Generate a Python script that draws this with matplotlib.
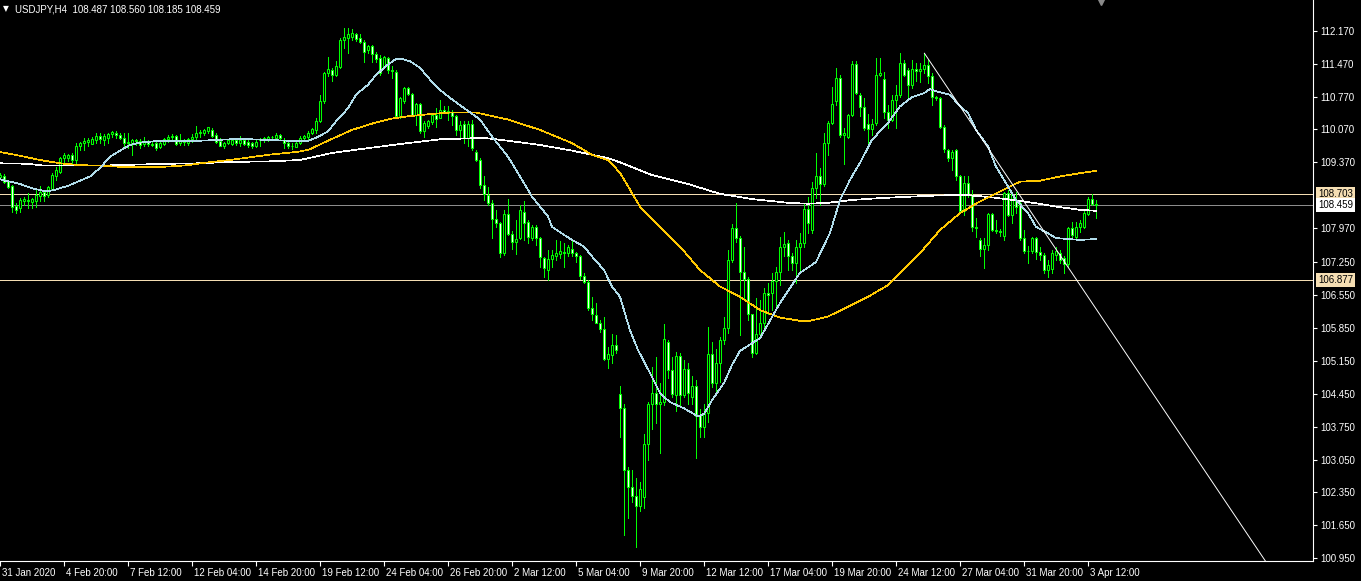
import matplotlib
matplotlib.use("Agg")
import matplotlib.pyplot as plt
import matplotlib.transforms as mtransforms
import numpy as np

plt.rcParams['font.family'] = ['Liberation Sans', 'DejaVu Sans']

# ---------------- data (USDJPY H4, candles indexed from 31 Jan 2020 04:00) ----------------
opens = [
    109.06, 109.08, 108.98, 108.87, 108.45, 108.39, 108.55, 108.58, 108.53, 108.55,
    108.66, 108.74, 108.68, 108.80, 109.07, 109.16, 109.47, 109.47, 109.52, 109.43,
    109.71, 109.78, 109.80, 109.77, 109.84, 109.93, 109.85, 109.89, 109.97, 110.00,
    109.95, 109.89, 109.78, 109.78, 109.84, 109.82, 109.76, 109.80, 109.75, 109.78,
    109.69, 109.76, 109.86, 109.92, 109.93, 109.78, 109.84, 109.79, 109.86, 109.90,
    110.00, 110.00, 110.03, 110.06, 109.96, 109.83, 109.72, 109.78, 109.76, 109.85,
    109.78, 109.84, 109.81, 109.79, 109.71, 109.84, 109.84, 109.87, 109.90, 109.89,
    109.95, 109.85, 109.79, 109.72, 109.70, 109.78, 109.89, 109.90, 110.00, 110.05,
    110.24, 110.67, 111.27, 111.34, 111.23, 111.40, 111.98, 112.02, 112.04, 112.09,
    112.01, 111.94, 111.75, 111.84, 111.68, 111.60, 111.40, 111.60, 111.34, 111.30,
    110.36, 110.67, 110.95, 110.83, 110.38, 110.61, 110.03, 110.15, 110.22, 110.38,
    110.31, 110.49, 110.42, 110.45, 110.36, 110.06, 110.19, 109.89, 110.19, 109.60,
    109.42, 108.89, 108.68, 108.51, 108.16, 108.08, 107.44, 108.27, 107.84, 107.68,
    107.76, 108.31, 108.11, 107.76, 108.00, 107.77, 107.33, 107.08, 107.31, 107.37,
    107.42, 107.47, 107.44, 107.52, 107.45, 107.38, 106.95, 106.83, 106.27, 106.12,
    105.95, 105.82, 105.18, 105.27, 105.48, 104.44, 104.14, 102.82, 102.46, 102.28,
    102.06, 102.26, 103.39, 104.23, 104.47, 104.24, 104.28, 105.56, 104.95, 104.42,
    105.25, 104.42, 104.97, 104.37, 104.61, 103.99, 103.75, 104.03, 105.29, 104.67,
    105.10, 105.59, 105.85, 107.29, 107.98, 107.76, 107.04, 106.89, 106.14, 105.32,
    105.72, 105.95, 106.59, 106.59, 106.85, 107.04, 107.57, 107.65, 107.38, 107.23,
    107.57, 107.65, 108.38, 107.93, 108.83, 109.08, 108.91, 109.79, 110.21, 110.68,
    111.17, 109.96, 109.92, 110.38, 111.47, 110.81, 110.55, 110.19, 110.08, 110.21,
    111.23, 111.14, 110.45, 110.28, 110.70, 110.81, 111.48, 111.34, 111.02, 111.35,
    111.32, 111.35, 111.45, 111.21, 110.76, 110.74, 110.12, 109.64, 109.46, 109.64,
    109.07, 108.34, 108.94, 108.68, 107.99, 107.72, 107.52, 107.61, 108.27, 107.93,
    107.90, 107.80, 108.71, 108.24, 108.54, 108.50, 107.76, 107.49, 107.48, 107.76,
    107.47, 107.40, 107.08, 107.10, 107.40, 107.44, 107.33, 107.21, 107.97, 107.79,
    107.99, 108.00, 108.27, 108.59, 108.487,
]
highs = [
    109.14, 109.12, 108.99, 108.89, 108.51, 108.61, 108.64, 108.72, 108.62, 108.81,
    108.86, 108.76, 108.87, 109.14, 109.28, 109.49, 109.57, 109.55, 109.56, 109.78,
    109.81, 109.89, 109.89, 109.92, 110.00, 110.00, 109.98, 110.00, 110.03, 110.04,
    110.00, 110.00, 110.00, 109.86, 109.86, 109.86, 109.90, 109.84, 109.82, 109.84,
    109.82, 109.89, 109.95, 109.98, 109.95, 109.98, 109.86, 109.89, 109.98, 110.15,
    110.05, 110.08, 110.13, 110.10, 110.00, 109.88, 109.81, 109.86, 109.89, 109.87,
    109.93, 109.86, 109.84, 109.81, 109.84, 109.88, 109.92, 109.93, 109.94, 110.00,
    109.98, 109.89, 109.81, 109.79, 109.81, 109.93, 109.95, 110.03, 110.10, 110.31,
    110.81, 111.30, 111.61, 111.37, 111.52, 112.01, 112.23, 112.23, 112.21, 112.12,
    112.09, 111.98, 111.87, 111.87, 111.71, 111.66, 111.64, 111.62, 111.41, 111.34,
    110.77, 110.98, 110.98, 110.84, 110.63, 110.63, 110.24, 110.28, 110.42, 110.52,
    110.70, 110.56, 110.56, 110.48, 110.38, 110.24, 110.24, 110.24, 110.28, 109.64,
    109.46, 109.07, 108.85, 108.57, 108.36, 108.10, 108.36, 108.59, 107.90, 108.15,
    108.47, 108.54, 108.15, 108.04, 108.04, 107.79, 107.36, 107.51, 107.51, 107.72,
    107.69, 107.65, 107.61, 107.72, 107.47, 107.40, 107.01, 106.87, 106.51, 106.37,
    106.02, 106.09, 105.45, 105.73, 105.70, 104.61, 104.23, 102.89, 102.82, 102.65,
    102.58, 103.59, 104.28, 105.01, 105.22, 104.68, 105.93, 105.60, 105.24, 105.34,
    105.32, 105.17, 105.10, 104.82, 104.75, 104.12, 104.24, 105.87, 105.55, 105.40,
    105.65, 106.08, 107.51, 108.05, 108.51, 107.80, 107.57, 106.93, 106.15, 106.48,
    106.44, 106.69, 106.80, 107.01, 107.15, 107.79, 107.88, 107.71, 107.44, 107.72,
    107.86, 108.50, 108.64, 108.96, 109.57, 109.25, 110.00, 110.24, 110.98, 111.38,
    111.23, 110.10, 110.40, 111.52, 111.52, 110.84, 110.74, 110.40, 110.30, 111.59,
    111.59, 111.30, 110.59, 110.81, 111.02, 111.70, 111.55, 111.38, 111.55, 111.48,
    111.48, 111.70, 111.55, 111.27, 110.79, 110.77, 110.17, 109.65, 109.64, 109.65,
    109.10, 109.07, 109.07, 108.78, 108.18, 107.76, 107.76, 108.29, 108.30, 108.15,
    107.95, 108.75, 108.78, 108.75, 108.75, 108.54, 107.93, 107.60, 107.79, 107.79,
    107.58, 107.44, 107.29, 107.51, 107.58, 107.51, 107.37, 108.00, 108.11, 108.11,
    108.15, 108.36, 108.64, 108.70, 108.560,
]
lows = [
    109.02, 108.93, 108.83, 108.31, 108.30, 108.32, 108.47, 108.40, 108.41, 108.43,
    108.54, 108.54, 108.64, 108.78, 109.00, 109.14, 109.35, 109.40, 109.32, 109.32,
    109.64, 109.64, 109.71, 109.75, 109.78, 109.78, 109.74, 109.78, 109.92, 109.89,
    109.86, 109.72, 109.67, 109.53, 109.74, 109.67, 109.71, 109.71, 109.71, 109.64,
    109.67, 109.74, 109.81, 109.85, 109.74, 109.74, 109.74, 109.74, 109.81, 109.86,
    109.92, 109.96, 110.00, 109.92, 109.78, 109.71, 109.67, 109.76, 109.74, 109.74,
    109.72, 109.73, 109.70, 109.68, 109.69, 109.71, 109.80, 109.83, 109.87, 109.85,
    109.85, 109.67, 109.67, 109.65, 109.69, 109.75, 109.86, 109.84, 109.98, 109.99,
    110.22, 110.64, 111.20, 111.11, 111.20, 111.37, 111.80, 111.70, 111.98, 111.96,
    111.91, 111.50, 111.70, 111.50, 111.50, 111.23, 111.38, 111.27, 111.16, 110.35,
    110.31, 110.63, 110.81, 110.35, 110.17, 109.99, 109.91, 110.10, 110.19, 110.12,
    110.31, 110.42, 110.28, 110.17, 109.96, 109.87, 109.78, 109.71, 109.64, 109.39,
    108.82, 108.57, 108.47, 107.76, 108.00, 107.35, 107.40, 107.83, 107.52, 107.42,
    107.73, 107.72, 107.66, 107.72, 107.61, 107.15, 106.94, 106.87, 107.15, 107.29,
    107.33, 107.15, 107.37, 107.37, 107.26, 106.90, 106.80, 106.23, 106.02, 105.95,
    105.77, 105.17, 104.99, 105.10, 105.31, 103.52, 101.44, 101.80, 102.15, 101.18,
    101.96, 102.01, 103.04, 103.69, 103.83, 103.19, 104.21, 104.78, 104.39, 104.09,
    104.21, 104.39, 104.24, 104.24, 103.09, 103.52, 103.52, 103.85, 104.60, 104.49,
    104.70, 105.50, 105.75, 107.25, 107.68, 105.70, 106.49, 106.02, 105.24, 105.30,
    105.66, 105.87, 106.15, 106.23, 106.27, 106.76, 107.37, 107.08, 107.08, 106.80,
    107.08, 107.58, 107.86, 107.86, 108.61, 108.47, 108.86, 109.53, 110.19, 110.60,
    109.92, 109.34, 109.89, 110.36, 110.83, 110.35, 110.06, 109.67, 109.95, 110.17,
    111.20, 110.31, 110.10, 110.24, 110.10, 110.77, 111.20, 110.77, 110.95, 111.09,
    111.08, 111.28, 111.06, 110.59, 110.70, 110.10, 109.60, 109.39, 109.21, 109.00,
    108.32, 108.25, 108.64, 107.90, 107.79, 107.37, 107.12, 107.51, 107.90, 107.86,
    107.80, 107.72, 108.22, 108.09, 108.29, 107.72, 107.44, 107.22, 107.44, 107.32,
    107.29, 107.01, 106.93, 107.01, 107.29, 107.22, 107.01, 107.15, 107.76, 107.72,
    107.88, 107.97, 108.25, 108.47, 108.185,
]
closes = [
    109.10, 108.96, 108.85, 108.43, 108.35, 108.57, 108.60, 108.55, 108.60, 108.68,
    108.75, 108.66, 108.84, 109.10, 109.21, 109.47, 109.53, 109.52, 109.43, 109.71,
    109.79, 109.82, 109.85, 109.86, 109.94, 109.87, 109.94, 109.98, 110.01, 109.95,
    109.89, 109.78, 109.81, 109.84, 109.82, 109.74, 109.81, 109.75, 109.74, 109.67,
    109.78, 109.86, 109.92, 109.94, 109.76, 109.84, 109.80, 109.87, 109.92, 110.00,
    110.02, 110.05, 110.12, 109.94, 109.81, 109.72, 109.78, 109.84, 109.85, 109.79,
    109.84, 109.76, 109.74, 109.71, 109.81, 109.87, 109.89, 109.90, 109.92, 109.96,
    109.88, 109.78, 109.72, 109.71, 109.79, 109.89, 109.93, 110.00, 110.08, 110.24,
    110.67, 111.27, 111.35, 111.23, 111.41, 111.98, 112.03, 112.09, 112.12, 111.99,
    111.94, 111.72, 111.85, 111.67, 111.57, 111.27, 111.62, 111.34, 111.31, 110.36,
    110.74, 110.95, 110.83, 110.38, 110.61, 110.03, 110.20, 110.24, 110.38, 110.29,
    110.49, 110.45, 110.47, 110.36, 110.06, 110.17, 109.89, 110.19, 109.67, 109.41,
    108.89, 108.70, 108.51, 108.16, 108.08, 107.44, 108.27, 107.84, 107.68, 107.75,
    108.36, 108.09, 107.78, 108.00, 107.76, 107.35, 107.12, 107.31, 107.40, 107.44,
    107.48, 107.44, 107.58, 107.44, 107.38, 106.95, 106.83, 106.27, 106.14, 105.96,
    105.82, 105.18, 105.29, 105.48, 105.37, 104.14, 102.82, 102.46, 102.28, 102.06,
    102.43, 103.39, 104.23, 104.47, 104.24, 104.28, 105.61, 104.95, 104.45, 105.25,
    104.42, 104.97, 104.47, 104.61, 103.97, 103.75, 104.03, 105.29, 104.67, 105.10,
    105.59, 105.84, 107.29, 107.98, 107.76, 107.04, 106.89, 106.14, 105.32, 105.72,
    105.95, 106.59, 106.55, 106.85, 107.04, 107.57, 107.63, 107.38, 107.23, 107.57,
    107.65, 108.38, 108.08, 108.83, 109.08, 108.91, 109.79, 110.21, 110.62, 111.17,
    109.96, 110.00, 110.38, 111.47, 110.85, 110.55, 110.10, 110.08, 110.19, 111.23,
    111.27, 110.45, 110.28, 110.70, 110.81, 111.48, 111.23, 111.02, 111.35, 111.32,
    111.35, 111.45, 111.21, 110.76, 110.74, 110.12, 109.65, 109.46, 109.60, 109.07,
    108.34, 108.94, 108.68, 107.99, 107.97, 107.52, 107.61, 108.27, 107.93, 107.90,
    107.88, 108.71, 108.24, 108.70, 108.43, 107.76, 107.49, 107.48, 107.76, 107.47,
    107.40, 107.08, 107.19, 107.44, 107.49, 107.29, 107.21, 107.97, 107.83, 107.99,
    108.09, 108.29, 108.59, 108.49, 108.459,
]

# moving averages (candle index, price)
fast_ma_idx = [0, 5, 8, 11, 13, 17, 20, 22.5, 25, 27.5, 30, 32.5, 35, 40, 50, 57.5, 63, 72, 77, 79,
               82, 84, 87, 89, 92, 94, 97, 99, 100.5, 102.5, 105, 107.5, 110, 112.5, 120, 123, 127, 130, 133, 137,
               138, 141, 143, 146, 148, 151, 153, 155, 157.5, 159.5, 162.5, 165, 167.5, 171, 173, 174.5, 176, 178, 181, 183,
               185, 190, 195, 200, 204, 207.5, 210, 212.5, 215, 218, 222, 225, 228, 231, 232.5, 234, 237.5, 240, 242, 244,
               247, 249, 252, 254, 257, 259, 262, 264, 267, 270, 274]
fast_ma_val = [109.01, 108.91, 108.82, 108.76, 108.77, 108.87, 108.98, 109.07, 109.25, 109.49,
               109.62, 109.74, 109.79, 109.83, 109.83, 109.86, 109.86, 109.83, 109.83, 109.89,
               110.03, 110.24, 110.52, 110.81, 111.02, 111.23, 111.45, 111.57, 111.57, 111.52,
               111.38, 111.13, 110.91, 110.74, 110.28, 109.92, 109.49, 109.07, 108.64, 108.22,
               108.00, 107.83, 107.72, 107.58, 107.37, 107.08, 106.73, 106.51, 105.80, 105.38,
               104.89, 104.46, 104.27, 104.14, 104.04, 103.97, 104.02, 104.31, 104.68, 105.06,
               105.36, 105.63, 106.38, 107.02, 107.25, 107.87, 108.57, 109.00, 109.36, 109.85,
               110.21, 110.56, 110.76, 110.84, 110.93, 110.88, 110.81, 110.56, 110.42, 110.06,
               109.71, 109.28, 108.86, 108.57, 108.29, 108.00, 107.86, 107.76, 107.74, 107.72, 107.74]

mid_ma_idx = [0, 5, 10, 15, 20, 25, 31, 37.5, 42, 47, 52, 57.5, 67, 75, 77.5, 82.5, 88, 94, 98, 102,
              108, 112.5, 119, 127, 135, 143, 148, 152, 155, 160, 165, 170, 175, 180, 185, 190, 195, 200, 202.5, 207,
              212, 217, 222, 225, 230, 235, 240, 245, 250, 255, 260, 265, 270, 274]
mid_ma_val = [109.59, 109.51, 109.42, 109.35, 109.31, 109.30, 109.27, 109.27, 109.28, 109.31,
              109.37, 109.42, 109.53, 109.60, 109.65, 109.85, 110.06, 110.22, 110.30, 110.35,
              110.40, 110.43, 110.43, 110.28, 110.06, 109.78, 109.53, 109.42, 109.15, 108.43,
              108.00, 107.58, 107.08, 106.73, 106.51, 106.23, 106.07, 106.00, 106.00, 106.09,
              106.30, 106.51, 106.76, 107.01, 107.44, 107.93, 108.29, 108.54, 108.75, 108.96,
              108.98, 109.07, 109.14, 109.19]

slow_ma_idx = [0, 7, 11, 25, 33, 42, 50, 57.5, 67, 75, 83, 90, 100, 110, 121, 127, 135, 143, 152, 155,
               163, 172, 180, 188, 197, 202, 207, 213, 220, 232.5, 241, 247.5, 256, 264, 270, 274]
slow_ma_val = [109.35, 109.34, 109.30, 109.30, 109.32, 109.34, 109.35, 109.38, 109.39, 109.42,
               109.57, 109.65, 109.76, 109.86, 109.89, 109.83, 109.74, 109.62, 109.46, 109.37,
               109.10, 108.91, 108.70, 108.59, 108.51, 108.49, 108.51, 108.57, 108.61, 108.66,
               108.68, 108.63, 108.54, 108.43, 108.36, 108.34]

trend_idx = [231.1, 316.4]
trend_val = [111.69, 100.885]

level_upper = 108.703
level_lower = 106.877
bid_price = 108.459

price_ticks = [112.170, 111.470, 110.770, 110.070, 109.370, 107.970, 107.250, 106.550,
               105.850, 105.150, 104.450, 103.750, 103.050, 102.350, 101.650, 100.950]
time_tick_idx = [0, 16, 32, 48, 64, 80, 96, 112, 128, 144, 160, 176, 192, 208, 224, 240, 256, 272]
time_labels = ["31 Jan 2020", "4 Feb 20:00", "7 Feb 12:00", "12 Feb 04:00", "14 Feb 20:00",
               "19 Feb 12:00", "24 Feb 04:00", "26 Feb 20:00", "2 Mar 12:00", "5 Mar 04:00",
               "9 Mar 20:00", "12 Mar 12:00", "17 Mar 04:00", "19 Mar 20:00", "24 Mar 12:00",
               "27 Mar 04:00", "31 Mar 20:00", "3 Apr 12:00"]

title = "USDJPY,H4  108.487 108.560 108.185 108.459"

# ---------------- figure ----------------
W, H = 1361, 581
fig = plt.figure(figsize=(W / 100, H / 100), dpi=100, facecolor='black')
ax = fig.add_axes([0, 20 / H, 1313 / W, 561 / H], facecolor='black')
ax.set_xlim(0, 328.25)
ax.set_ylim(100.892, 112.823)

GREEN = '#00FF00'
LW = 0.72   # wick width, one pixel
THIN = 0.5  # aliased one-pixel indicator lines
o = np.array(opens); h = np.array(highs); l = np.array(lows); c = np.array(closes)
x = np.arange(len(o))

# wicks
ax.vlines(x, l, h, color=GREEN, linewidth=LW, antialiased=False, zorder=3)
# bodies
bottom = np.minimum(o, c)
height = np.maximum(np.abs(c - o), 0.004)
fills = np.where(c < o, 'white', 'black')
ax.bar(x, height, bottom=bottom, width=0.5, color=fills, edgecolor=GREEN,
       linewidth=0.75, zorder=4)

# moving averages
ax.plot(slow_ma_idx, slow_ma_val, color='white', linewidth=THIN, antialiased=False, zorder=5)
ax.plot(mid_ma_idx, mid_ma_val, color='#FFC800', linewidth=THIN, antialiased=False, zorder=5)
ax.plot(fast_ma_idx, fast_ma_val, color='#B0DCEA', linewidth=THIN, antialiased=False, zorder=5)

# horizontal levels and bid line
ax.axhline(level_upper, color='#F5DEB3', linewidth=THIN, antialiased=False, zorder=2)
ax.axhline(level_lower, color='#F5DEB3', linewidth=THIN, antialiased=False, zorder=2)
ax.axhline(bid_price, color='#8C8C8C', linewidth=THIN, antialiased=False, zorder=2)

# trendline
ax.plot(trend_idx, trend_val, color='white', linewidth=0.7, antialiased=True, zorder=6)

# axes styling
for s in ['left', 'top']:
    ax.spines[s].set_visible(False)
for s in ['right', 'bottom']:
    ax.spines[s].set_color('white')
    ax.spines[s].set_linewidth(0.8)

ax.yaxis.tick_right()
ax.set_yticks(price_ticks)
ax.set_yticklabels([f"{v:.3f}" for v in price_ticks])
ax.tick_params(axis='y', colors='white', length=3, width=0.8, pad=2.5, labelsize=7)

ax.set_xticks(time_tick_idx)
ax.set_xticklabels(time_labels)
ax.tick_params(axis='x', colors='white', length=3.5, width=0.8, pad=1.5, labelsize=7)
offset = mtransforms.ScaledTranslation(1.5 / 100, 0, fig.dpi_scale_trans)
for lab in ax.get_xticklabels():
    lab.set_horizontalalignment('left')
    lab.set_transform(lab.get_transform() + offset)

# price boxes on the axis
trans = mtransforms.blended_transform_factory(ax.transAxes, ax.transData)
for val, fc in [(level_upper, '#F5DEB3'), (bid_price, 'white'), (level_lower, '#F5DEB3')]:
    ax.annotate(f"{val:.3f}", xy=(1.0, val), xycoords=trans, xytext=(5, 0),
                textcoords='offset pixels', ha='left', va='center', fontsize=7,
                color='black', annotation_clip=False, zorder=10,
                bbox=dict(boxstyle='square,pad=0.2', fc=fc, ec='none'))

# chart-shift marker
ax.plot([275.3], [112.78], marker='v', color='#8A8A8A', markersize=5, clip_on=False, zorder=10)

# title
fig.text(3 / W, 1 - 9 / H, "\u25BC", color='white', fontsize=5.5, va='center', ha='left',
         family=['DejaVu Sans'])
fig.text(15 / W, 1 - 9 / H, title, color='white', fontsize=7, va='center', ha='left')

fig.savefig('out.png', dpi=100, facecolor='black')
